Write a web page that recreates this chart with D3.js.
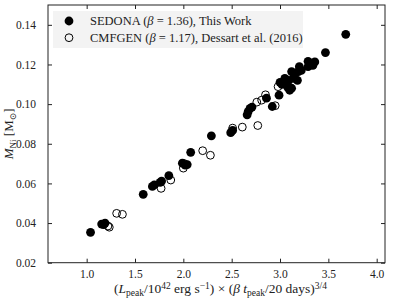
<!DOCTYPE html>
<html>
<meta charset="utf-8">
<script src="https://d3js.org/d3.v7.min.js"></script>
<style>
  body { margin: 0; background: #fff; }
  text { font-family: "Liberation Serif", "DejaVu Serif", serif; fill: #222; }
</style>
<body>
<div id="vis"></div>
<script>
  // SEDONA (filled) points
  const sedonaX = [1.04, 1.155, 1.175, 1.19, 1.585, 1.68, 1.70, 1.76, 1.775, 1.85,
                   1.99, 2.02, 2.04, 2.076, 2.29, 2.49, 2.51, 2.66, 2.67, 2.69,
                   2.71, 2.86, 2.92, 2.99, 3.00, 3.02, 3.05, 3.08, 3.10, 3.12,
                   3.09, 3.12, 3.14, 3.15, 3.18, 3.19, 3.20, 3.22, 3.29, 3.29,
                   3.32, 3.34, 3.36, 3.47, 3.68];
  const sedonaY = [0.0353, 0.0395, 0.0392, 0.0400, 0.0545, 0.0585, 0.0593, 0.0605, 0.0612, 0.0639,
                   0.0702, 0.0692, 0.0695, 0.0757, 0.0840, 0.0856, 0.0867, 0.0946, 0.0962, 0.0979,
                   0.0985, 0.1030, 0.0988, 0.1045, 0.1110, 0.1100, 0.1130, 0.1085, 0.1070, 0.1080,
                   0.1120, 0.1164, 0.1130, 0.1147, 0.1120, 0.1164, 0.1189, 0.1170, 0.1189, 0.1216,
                   0.1198, 0.1195, 0.1213, 0.1260, 0.1352];
  // CMFGEN (open) points
  const cmfgenX = [1.22, 1.234, 1.31, 1.37, 1.77, 1.87, 2.00, 2.01, 2.20, 2.28,
                   2.51, 2.61, 2.77, 2.76, 2.81, 2.85, 2.95, 2.98];
  const cmfgenY = [0.0385, 0.0379, 0.0449, 0.0444, 0.0575, 0.0617, 0.0677, 0.0700, 0.0765, 0.0742,
                   0.0879, 0.0884, 0.0892, 0.1010, 0.1020, 0.1047, 0.0992, 0.1088];
  const xTicks = [1.0, 1.5, 2.0, 2.5, 3.0, 3.5, 4.0];
  const yTicks = [0.02, 0.04, 0.06, 0.08, 0.10, 0.12, 0.14];

  const W = 399, H = 299;
  const margin = {top: 5, right: 14, bottom: 36.3, left: 48};
  const width = W - margin.left - margin.right,
        height = H - margin.top - margin.bottom;

  const svg = d3.select("#vis").append("svg")
      .attr("width", W).attr("height", H);
  const g = svg.append("g")
      .attr("transform", `translate(${margin.left},${margin.top})`);

  const x = d3.scaleLinear().domain([0.6, 4.086]).range([0, width]);
  const y = d3.scaleLinear().domain([0.02, 0.15]).range([height, 0]);

  // axes, ticks pointing inward
  const fmtX = d3.format(".1f"), fmtY = d3.format(".2f");
  const xb = g.append("g").attr("transform", `translate(0,${height})`)
    .call(d3.axisBottom(x).tickValues(xTicks).tickFormat(fmtX).tickSizeInner(-4).tickSizeOuter(0).tickPadding(7.5));
  const xt = g.append("g")
    .call(d3.axisTop(x).tickValues(xTicks).tickFormat("").tickSizeInner(-4).tickSizeOuter(0));
  const yl = g.append("g")
    .call(d3.axisLeft(y).tickValues(yTicks).tickFormat(fmtY).tickSizeInner(-4).tickSizeOuter(0).tickPadding(12));
  const yr = g.append("g").attr("transform", `translate(${width},0)`)
    .call(d3.axisRight(y).tickValues(yTicks).tickFormat("").tickSizeInner(-4).tickSizeOuter(0));
  [xb, xt, yl, yr].forEach(a => {
    a.select(".domain").remove();
    a.selectAll("line").attr("stroke", "#222");
    a.selectAll("text").style("font-family", '"Liberation Serif", serif')
      .style("font-size", "11.5px").attr("fill", "#222");
  });

  // frame
  g.append("rect").attr("width", width).attr("height", height)
    .attr("fill", "none").attr("stroke", "#222").attr("stroke-width", 1);

  const r = 4.4;
  // filled points
  g.append("g").selectAll("circle")
    .data(sedonaX.map((d, i) => [d, sedonaY[i]]))
    .join("circle")
      .attr("cx", d => x(d[0])).attr("cy", d => y(d[1]))
      .attr("r", r).attr("fill", "#000");
  // open points
  g.append("g").selectAll("circle")
    .data(cmfgenX.map((d, i) => [d, cmfgenY[i]]))
    .join("circle")
      .attr("cx", d => x(d[0])).attr("cy", d => y(d[1]))
      .attr("r", r - 0.5).attr("fill", "none").attr("stroke", "#000").attr("stroke-width", 1);

  // legend
  const leg = svg.append("g");
  leg.append("rect").attr("x", 53).attr("y", 11).attr("width", 250).attr("height", 37)
    .attr("fill", "#f3f3f3");
  leg.append("circle").attr("cx", 69).attr("cy", 21).attr("r", r).attr("fill", "#000");
  leg.append("circle").attr("cx", 69).attr("cy", 37.7).attr("r", r - 0.5)
    .attr("fill", "none").attr("stroke", "#000");
  const legText = [["SEDONA (", "1.36), This Work"], ["CMFGEN (", "1.17), Dessart et al. (2016)"]];
  legText.forEach((t, i) => {
    const tx = leg.append("text").attr("x", 90).attr("y", 25 + i * 16.7)
      .style("font-size", "12.5px");
    tx.append("tspan").text(t[0]);
    tx.append("tspan").style("font-style", "italic").text("β");
    tx.append("tspan").text(" = " + t[1]);
  });

  // y label
  const ylab = svg.append("text")
    .attr("transform", `translate(13,${margin.top + height / 2}) rotate(-90)`)
    .attr("text-anchor", "middle").style("font-size", "13px");
  ylab.append("tspan").style("font-style", "italic").text("M");
  ylab.append("tspan").attr("dy", 2.5).style("font-size", "9px").text("Ni");
  ylab.append("tspan").attr("dy", -2.5).text(" [M");
  ylab.append("tspan").attr("dy", 2.5).style("font-size", "9px").text("⊙");
  ylab.append("tspan").attr("dy", -2.5).text("]");

  // x label
  const xlab = svg.append("text")
    .attr("x", margin.left + width / 2 + 4).attr("y", 293)
    .attr("text-anchor", "middle").style("font-size", "13.5px");
  xlab.append("tspan").text("(");
  xlab.append("tspan").style("font-style", "italic").text("L");
  xlab.append("tspan").attr("dy", 2.5).style("font-size", "9.5px").text("peak");
  xlab.append("tspan").attr("dy", -2.5).text("/10");
  xlab.append("tspan").attr("dy", -4.5).style("font-size", "9.5px").text("42");
  xlab.append("tspan").attr("dy", 4.5).text(" erg s");
  xlab.append("tspan").attr("dy", -4.5).style("font-size", "9.5px").text("−1");
  xlab.append("tspan").attr("dy", 4.5).text(") × (");
  xlab.append("tspan").style("font-style", "italic").text("β t");
  xlab.append("tspan").attr("dy", 2.5).style("font-size", "9.5px").text("peak");
  xlab.append("tspan").attr("dy", -2.5).text("/20 days)");
  xlab.append("tspan").attr("dy", -4.5).style("font-size", "9.5px").text("3/4");
</script>
</body>
</html>
